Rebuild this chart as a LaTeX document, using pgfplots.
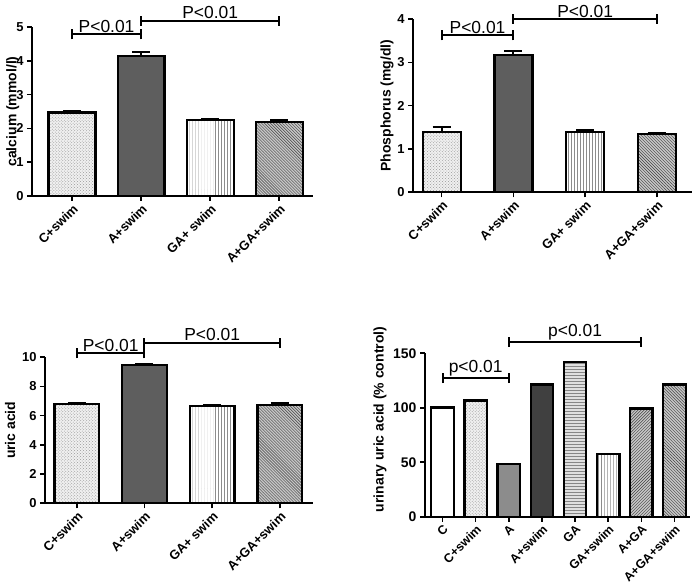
\documentclass[border=0pt]{standalone}
\usepackage{pgfplots}
\pgfplotsset{compat=1.18}
\usetikzlibrary{patterns}
\usepackage{fontspec}
\setmainfont{Liberation Sans}

\tikzset{
 cswim/.style={preaction={fill=gray!12}, pattern=crosshatch dots, pattern color=gray!80},
 cwhite/.style={fill=white},
 aonly/.style={fill=black!45},
 aswim/.style={fill=black!63},
 aswimd/.style={fill=black!75},
 gaonly/.style={preaction={fill=gray!25}, pattern=horizontal lines, pattern color=gray!95},
 gaswim/.style={preaction={fill=white}, pattern=vertical lines, pattern color=gray!90},
 aga/.style={preaction={fill=gray!45}, pattern=north east lines, pattern color=black!75},
 agaswim/.style={preaction={fill=gray!45}, pattern=north west lines, pattern color=black!75},
}
\pgfplotsset{
 panel/.style={
  scale only axis, anchor=south west,
  axis x line*=bottom, axis y line*=left,
  axis line style={line width=2bp, black},
  every tick/.style={line width=1.6bp, black},
  major tick length=5bp, tick align=outside,
  ymin=0, clip=false,
  tick label style={font=\bfseries\fontsize{13}{14}\selectfont},
  x tick label style={rotate=45, anchor=north east, inner sep=1.5bp},
  /pgf/number format/assume math mode=true,
  ylabel style={font=\bfseries\fontsize{14}{15}\selectfont, anchor=center},
  every axis plot/.append style={ybar, bar width=0.68, draw=black, line width=2.2bp},
 },
 eb/.style={error bars/.cd, y dir=plus, y explicit,
   error bar style={line width=2bp, black},
   error mark options={rotate=90, mark size=9bp, line width=2bp, black}},
}
\newcommand{\pbracket}[4]{%
 \draw[line width=2bp] (axis cs:#1,#3) -- (axis cs:#2,#3);
 \draw[line width=2bp] ([yshift=-5bp]axis cs:#1,#3) -- ([yshift=5bp]axis cs:#1,#3);
 \draw[line width=2bp] ([yshift=-5bp]axis cs:#2,#3) -- ([yshift=5bp]axis cs:#2,#3);
 \node[anchor=south, inner sep=1.5bp, font=\fontsize{17.5}{18}\selectfont] at (axis cs:{(#1+#2)/2},#3) {#4};
}

\begin{document}
\begin{tikzpicture}
\useasboundingbox (0,0) rectangle (696bp,588bp);

% Panel 1: calcium
\begin{axis}[panel, at={(32bp,392bp)}, width=281bp, height=169bp,
  xmin=-0.58, xmax=3.49, ymax=5, ytick={0,1,2,3,4,5},
  xtick={0,1,2,3}, xticklabels={C+swim, A+swim, GA+ swim, A+GA+swim},
  ylabel={calcium (mmol/l)}, ylabel style={at={(axis description cs:-0.068,0.5)}}]
\addplot[cswim, eb] coordinates {(0,2.47) +- (0,0.04)};
\addplot[aswim, eb] coordinates {(1,4.14) +- (0,0.11)};
\addplot[gaswim, eb] coordinates {(2,2.24) +- (0,0.05)};
\addplot[agaswim, eb] coordinates {(3,2.19) +- (0,0.05)};
\pbracket{0}{1}{4.78}{P<0.01}
\pbracket{1}{3}{5.19}{P<0.01}
\end{axis}

% Panel 2: phosphorus
\begin{axis}[panel, at={(413bp,395.7bp)}, width=279bp, height=173.3bp,
  xmin=-0.40, xmax=3.49, ymax=4, ytick={0,1,2,3,4},
  every axis plot/.append style={bar width=0.53},
  xtick={0,1,2,3}, xticklabels={C+swim, A+swim, GA+ swim, A+GA+swim},
  ylabel={Phosphorus (mg/dl)}, ylabel style={at={(axis description cs:-0.093,0.5)}}]
\addplot[cswim, eb] coordinates {(0,1.40) +- (0,0.10)};
\addplot[aswim, eb] coordinates {(1,3.17) +- (0,0.09)};
\addplot[gaswim, eb] coordinates {(2,1.40) +- (0,0.03)};
\addplot[agaswim, eb] coordinates {(3,1.34) +- (0,0.04)};
\pbracket{0}{1}{3.62}{P<0.01}
\pbracket{1}{3}{4.0}{P<0.01}
\end{axis}

% Panel 3: uric acid
\begin{axis}[panel, at={(45bp,84.7bp)}, width=268bp, height=146bp,
  xmin=-0.47, xmax=3.49, ymax=10, ytick={0,2,4,6,8,10},
  every axis plot/.append style={bar width=0.66},
  xtick={0,1,2,3}, xticklabels={C+swim, A+swim, GA+ swim, A+GA+swim},
  ylabel={uric acid}, ylabel style={at={(axis description cs:-0.13,0.5)}}]
\addplot[cswim, eb] coordinates {(0,6.78) +- (0,0.09)};
\addplot[aswim, eb] coordinates {(1,9.45) +- (0,0.07)};
\addplot[gaswim, eb] coordinates {(2,6.67) +- (0,0.07)};
\addplot[agaswim, eb] coordinates {(3,6.75) +- (0,0.10)};
\pbracket{0}{1}{10.27}{P<0.01}
\pbracket{1}{3}{11.0}{P<0.01}
\end{axis}

% Panel 4: urinary uric acid
\begin{axis}[panel, at={(425bp,71.3bp)}, width=265bp, height=163.4bp,
  xmin=-0.53, xmax=7.47, ymax=150, ytick={0,50,100,150},
  y tick label style={font=\bfseries\fontsize{14}{15}\selectfont},
  x tick label style={font=\bfseries\fontsize{12.5}{13}\selectfont},
  xtick={0,1,2,3,4,5,6,7},
  xticklabels={C, C+swim, A, A+swim, GA, GA+swim, A+GA, A+GA+swim},
  ylabel={urinary uric acid (\% control)}, ylabel style={at={(axis description cs:-0.17,0.595)}}]
\addplot[cwhite] coordinates {(0,100.2)};
\addplot[cswim] coordinates {(1,106.6)};
\addplot[aonly] coordinates {(2,48.4)};
\addplot[aswimd] coordinates {(3,121.3)};
\addplot[gaonly] coordinates {(4,142.2)};
\addplot[gaswim] coordinates {(5,57.6)};
\addplot[aga] coordinates {(6,99.3)};
\addplot[agaswim] coordinates {(7,121.3)};
\pbracket{0}{2}{127.2}{p<0.01}
\pbracket{2}{6}{160.8}{p<0.01}
\end{axis}
\end{tikzpicture}
\end{document}
